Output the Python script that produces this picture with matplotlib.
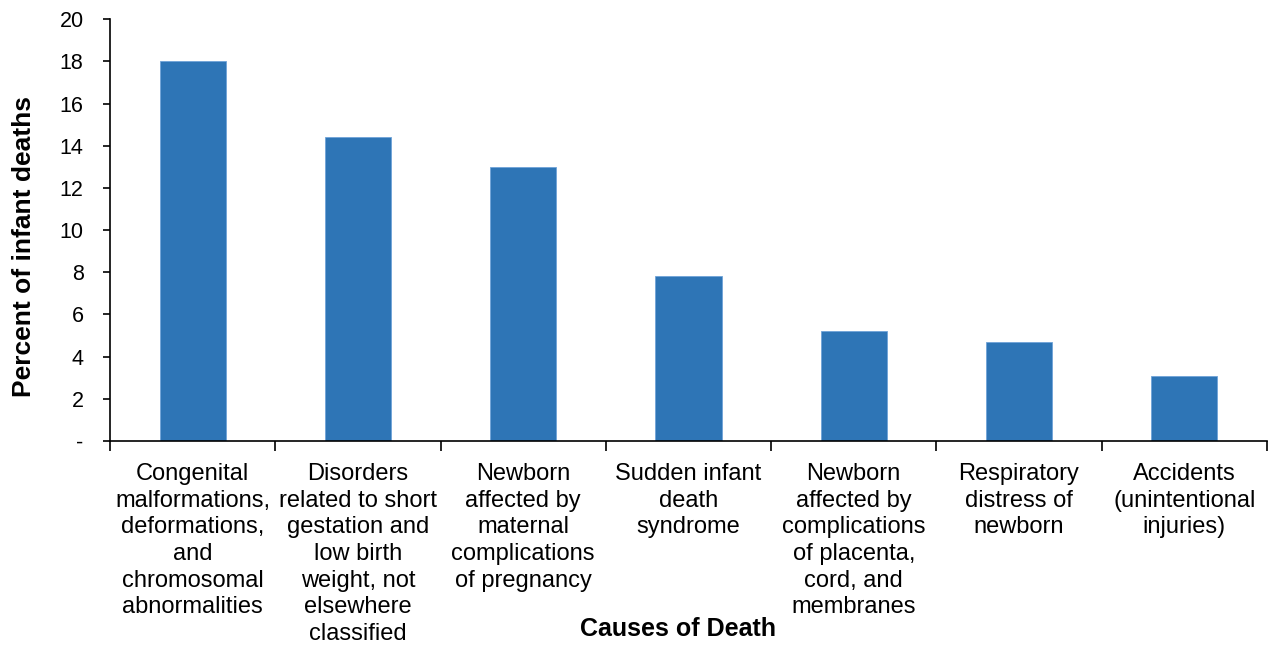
"""
Infant deaths by leading cause: single-series bar chart, Excel-like styling.
"""

import matplotlib
matplotlib.use("Agg")
import matplotlib.pyplot as plt
import numpy as np

plt.rcParams["font.family"] = ["Liberation Sans", "DejaVu Sans"]

# data
causes = [
    "Congenital\nmalformations,\ndeformations,\nand\nchromosomal\nabnormalities",
    "Disorders\nrelated to short\ngestation and\nlow birth\nweight, not\nelsewhere\nclassified",
    "Newborn\naffected by\nmaternal\ncomplications\nof pregnancy",
    "Sudden infant\ndeath\nsyndrome",
    "Newborn\naffected by\ncomplications\nof placenta,\ncord, and\nmembranes",
    "Respiratory\ndistress of\nnewborn",
    "Accidents\n(unintentional\ninjuries)",
]
percent = [18.0, 14.4, 13.0, 7.8, 5.2, 4.7, 3.1]
y_ticks = [0, 2, 4, 6, 8, 10, 12, 14, 16, 18, 20]
y_tick_labels = ["-", "2", "4", "6", "8", "10", "12", "14", "16", "18", "20"]

BAR_COLOR = "#2E75B6"

fig = plt.figure(figsize=(12.7, 6.49), dpi=100)
ax = fig.add_axes([0.0866, 0.3205, 0.911, 0.650])

x = np.arange(len(causes))
ax.bar(x, percent, width=0.4, color=BAR_COLOR, edgecolor="#6FA3D8", linewidth=0.6, zorder=2)

# y axis
ax.set_ylim(0, 20)
ax.set_yticks(y_ticks)
ax.set_yticklabels(y_tick_labels, fontsize=15.5)
ax.tick_params(axis="y", direction="out", length=5, width=1.2, pad=14)
ax.set_ylabel("Percent of infant deaths", fontsize=19, fontweight="bold")
ax.yaxis.set_label_coords(-0.064, 0.462)

# x axis: labels at centres, tick marks at category boundaries
ax.set_xlim(-0.5, len(causes) - 0.5)
ax.set_xticks(x)
ax.set_xticklabels(causes, fontsize=17, linespacing=1.27)
ax.tick_params(axis="x", which="major", length=0, pad=16)
ax.set_xticks(np.arange(-0.5, len(causes)), minor=True)
ax.tick_params(axis="x", which="minor", direction="out", length=7, width=1.2)

ax.set_xlabel("Causes of Death", fontsize=18, fontweight="bold")
ax.xaxis.set_label_coords(0.491, -0.418)

for side in ["top", "right"]:
    ax.spines[side].set_visible(False)
for side in ["left", "bottom"]:
    ax.spines[side].set_linewidth(1.2)

fig.savefig("out.png", dpi=100)
plt.close(fig)
